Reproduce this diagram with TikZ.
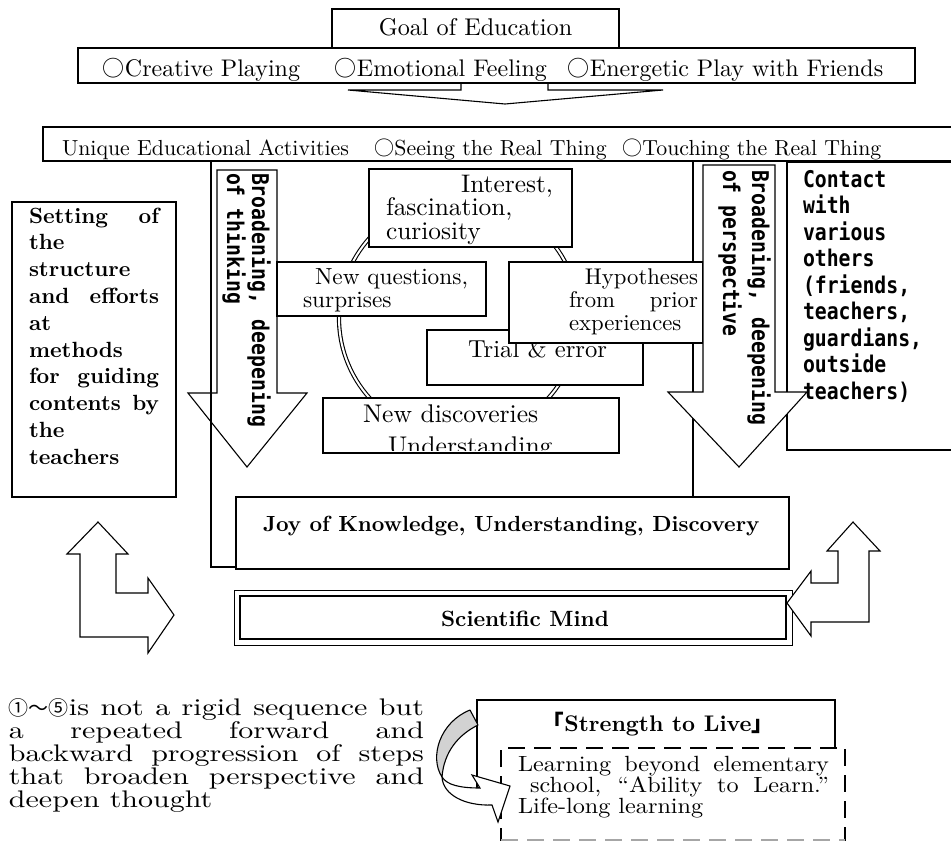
\documentclass[tikz,border=0pt]{standalone}
\usepackage{fontspec}
\setmainfont{lmroman10}[Extension=.otf,UprightFont=*-regular,BoldFont=*-bold]
\newfontfamily\wserif{lmroman10}[Extension=.otf,UprightFont=*-regular,BoldFont=*-bold,FakeStretch=1.25]
\newfontfamily\mserif{lmroman10}[Extension=.otf,UprightFont=*-regular,BoldFont=*-bold,FakeStretch=1.1]
\newfontfamily\goth{DejaVu Sans Mono}[FakeStretch=0.86]
\newfontfamily\cjk{Noto Sans CJK JP}
\newcommand\fs[1]{\fontsize{#1}{#1}\selectfont}
\newcommand\gt{\goth\bfseries\fs{23}}
\newcommand\jl[2]{\makebox[#1pt][s]{#2}}
\tikzset{
  box/.style={draw, line width=1.1pt, fill=white},
  ln/.style={line width=1.1pt},
  tx/.style={inner sep=0pt, outer sep=0pt},
  dashbox/.style={line width=2.2pt, dash pattern=on 17pt off 9pt},
}
\begin{document}
\begin{tikzpicture}[x=1pt,y=-1pt]
\useasboundingbox (0,0) rectangle (951,841);
\clip (0,0) rectangle (951,841);
\fill[white] (0,0) rectangle (951,841);

% ---- goal of education
\draw[box] (332,9) rectangle (619,48);
\node[tx,anchor=base] (goal) at (475.5,35) {\fs{24.2}Goal of Education};
\draw[box] (78,48) rectangle (915,83);
\node[tx,anchor=base west] (gA) at (98,76) {\fs{24}{\cjk\fs{22} ○}Creative Playing};
\node[tx,anchor=base west] (gB) at (330,76) {\fs{24}{\cjk\fs{22} ○}Emotional Feeling};
\node[tx,anchor=base west] (gC) at (563,76) {\fs{24}{\cjk\fs{22} ○}Energetic Play with Friends};
\draw[ln] (461,83) -- (461,90) -- (348,90) -- (505,104) -- (663,90) -- (548,90) -- (548,83);

% ---- activities band
\draw[box] (43,127) rectangle (975,161);
\node[tx,anchor=base west] (aA) at (62,155) {\fs{21.8}Unique Educational Activities};
\node[tx,anchor=base west] (aB) at (370,155) {\fs{21.8}{\cjk\fs{20} ○}Seeing the Real Thing};
\node[tx,anchor=base west] (aC) at (618,155) {\fs{21.8}{\cjk\fs{20} ○}Touching the Real Thing};

% ---- left box
\draw[box] (12,202) rectangle (176,497);
\begin{scope}[every node/.style={tx,anchor=base west}]
\node (s1) at (29,223.0) {\fs{22}\bfseries\jl{130}{Setting of}};
\node (s2) at (29,249.8) {\fs{22}\bfseries the};
\node (s3) at (29,276.6) {\fs{22}\bfseries structure};
\node (s4) at (29,303.4) {\fs{22}\bfseries\jl{130}{and efforts}};
\node (s5) at (29,330.2) {\fs{22}\bfseries at};
\node (s6) at (29,357.0) {\fs{22}\bfseries methods};
\node (s7) at (29,383.8) {\fs{22}\bfseries\jl{130}{for guiding}};
\node (s8) at (29,410.6) {\fs{22}\bfseries\jl{130}{contents by}};
\node (s9) at (29,437.4) {\fs{22}\bfseries the};
\node (s10) at (29,464.2) {\fs{22}\bfseries teachers};
\end{scope}

% ---- frame
\draw[ln] (211,161) rectangle (693,567);

% ---- left down arrow
\draw[ln] (217,170) -- (277,170) -- (277,393) -- (307,393) -- (247,467) -- (188,393) -- (217,393) -- cycle;
\node[tx,rotate=-90,anchor=base west] (la1) at (252,173) {\gt\jl{254}{Broadening, deepening}};
\node[tx,rotate=-90,anchor=base west] (la2) at (227,173) {\gt of thinking};

% ---- cycle
\draw[line width=1.1pt, double, double distance=2pt] (459,318) circle (120);

\draw[box] (369,169) rectangle (572,247);
\node[tx,anchor=base east] (i1) at (553,192) {\fs{25.4}Interest,};
\node[tx,anchor=base west] (i2) at (386,215.5) {\fs{25.4}fascination,};
\node[tx,anchor=base west] (i3) at (386,239) {\fs{25.4}curiosity};

\draw[box] (277,262) rectangle (486,316);
\node[tx,anchor=base west] (q1) at (315,284) {\fs{23.3}\jl{153}{New questions,}};
\node[tx,anchor=base west] (q2) at (303,307) {\fs{23.3}surprises};

\draw[box] (427,330) rectangle (643,385);
\node[tx,anchor=base west] (tr) at (468,357) {\fs{24.6}Trial \& error};

\draw[box] (509,262) rectangle (703,343);
\node[tx,anchor=base east] (h1) at (698,284) {\fs{22.7}Hypotheses};
\node[tx,anchor=base west] (h2) at (569,307) {\fs{22.7}\jl{129}{from prior}};
\node[tx,anchor=base west] (h3) at (569,330) {\fs{22.7}experiences};

\draw[box] (323,398) rectangle (619,453);
\node[tx,anchor=base west] (nd1) at (363,422) {\fs{25.6}New discoveries};
\begin{scope}
\clip (324,399) rectangle (618,450);
\node[tx,anchor=base west] (nd2) at (388,454) {\fs{25.6}Understanding};
\end{scope}

% ---- contact box
\draw[box] (787,162) rectangle (975,450);
\begin{scope}[every node/.style={tx,anchor=base west}]
\node (c1) at (803,187.0) {\gt Contact};
\node (c2) at (803,213.5) {\gt with};
\node (c3) at (803,240.0) {\gt various};
\node (c4) at (803,266.5) {\gt others};
\node (c5) at (803,293.0) {\gt (friends,};
\node (c6) at (803,319.5) {\gt teachers,};
\node (c7) at (803,346.0) {\gt guardians,};
\node (c8) at (803,372.5) {\gt outside};
\node (c9) at (803,399.0) {\gt teachers)};
\end{scope}

% ---- right down arrow
\draw[box] (703,165) -- (775,165) -- (775,392) -- (807,392) -- (739,467) -- (668,392) -- (703,392) -- cycle;
\node[tx,rotate=-90,anchor=base west] (ra1) at (752,170) {\gt\jl{255}{Broadening, deepening}};
\node[tx,rotate=-90,anchor=base west] (ra2) at (723,170) {\gt of perspective};

% ---- joy and scientific mind
\draw[box] (236,497) rectangle (789,569);
\node[tx,anchor=base west] (joy) at (263,531) {\fs{21.9}\bfseries Joy of Knowledge, Understanding, Discovery};
\draw[line width=1pt, fill=white] (234,590) rectangle (792,645);
\draw[line width=2.4pt] (240,596) rectangle (786,639);
\node[tx,anchor=base] (sci) at (525,626) {\fs{22.1}\bfseries Scientific Mind};

% ---- L arrows
\draw[box] (80,637) -- (80,554) -- (67,554) -- (98,522) -- (128,554) -- (116,554) -- (116,593) -- (148,593) -- (148,578) -- (174,615) -- (148,653) -- (148,637) -- cycle;
\draw[box] (869,622) -- (869,551) -- (880,551) -- (853,522) -- (827,551) -- (838,551) -- (838,583) -- (811,583) -- (811,571) -- (787,603) -- (811,636) -- (811,622) -- cycle;

% ---- note
\begin{scope}[every node/.style={tx,anchor=base west}]
\node (p1) at (9,715) {\wserif\fs{24}\jl{415}{{\cjk\fs{20}①～⑤}is not a rigid sequence but}};
\node (p2) at (9,738) {\wserif\fs{24}\jl{415}{a repeated forward and}};
\node (p3) at (9,761) {\wserif\fs{24}\jl{415}{backward progression of steps}};
\node (p4) at (9,784) {\wserif\fs{24}\jl{415}{that broaden perspective and}};
\node (p5) at (9,807) {\wserif\fs{24}deepen thought};
\end{scope}

% ---- strength to live
\draw[box] (477,700) rectangle (835,788);
\node[tx,anchor=base] (str) at (658,731) {\fs{22.6}{\cjk\bfseries 「}\textbf{Strength to Live}{\cjk\bfseries 」}};
\fill[white] (501,748) rectangle (845,845);
\draw[dashbox] (501,845) -- (501,748) -- (845,748) -- (845,845);
\draw[gray!70, line width=1.4pt, dash pattern=on 17pt off 9pt] (501,840) -- (845,840);
\node[tx,anchor=base west] (l1) at (518,771) {\mserif\fs{22}\jl{311}{Learning beyond elementary}};
\node[tx,anchor=base west] (l2) at (530,792) {\mserif\fs{22}\jl{299}{school, “Ability to Learn.”}};
\node[tx,anchor=base west] (l3) at (518,813) {\mserif\fs{22}Life-long learning};

% ---- curved arrow
\filldraw[fill=gray!35, line width=1.1pt, line join=round] (470,710) -- (478,725) .. controls (458,735) and (444,752) .. (442,777) .. controls (429,757) and (440,722) .. (470,710) -- cycle;
\filldraw[fill=white, line width=1.1pt] (442,777) .. controls (447,785) and (460,788) .. (480,788) -- (472,775) -- (510,786) -- (498,822) -- (492,805) .. controls (465,806) and (443,795) .. (442,777) -- cycle;
\end{tikzpicture}
\end{document}
